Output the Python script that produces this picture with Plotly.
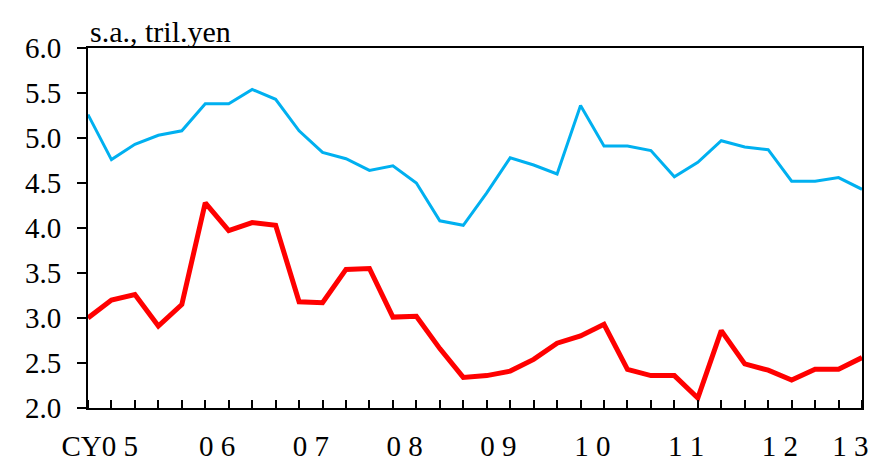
import plotly.graph_objects as go

# Quarterly data, CY2005 Q1 .. CY2013 Q2
years = ["CY0 5", "0 6", "0 7", "0 8", "0 9", "1 0", "1 1", "1 2", "1 3"]
blue_values = [5.26, 4.76, 4.93, 5.03, 5.08, 5.38, 5.38, 5.54, 5.43, 5.08,
               4.84, 4.77, 4.64, 4.69, 4.50, 4.08, 4.03, 4.39, 4.78, 4.70,
               4.60, 5.36, 4.91, 4.91, 4.86, 4.57, 4.73, 4.97, 4.90, 4.87,
               4.52, 4.52, 4.56, 4.43]
red_values = [3.00, 3.20, 3.26, 2.91, 3.15, 4.28, 3.97, 4.06, 4.03, 3.18,
              3.17, 3.54, 3.55, 3.01, 3.02, 2.66, 2.34, 2.36, 2.41, 2.54,
              2.72, 2.80, 2.93, 2.43, 2.36, 2.36, 2.11, 2.86, 2.49, 2.42,
              2.31, 2.43, 2.43, 2.56]
y_ticks = [2.0, 2.5, 3.0, 3.5, 4.0, 4.5, 5.0, 5.5, 6.0]

n = len(blue_values)
x = list(range(n))

# label positions: centre of each year's available quarters
label_pos = []
for k in range(len(years)):
    qs = [q for q in range(4 * k, 4 * k + 4) if q < n]
    label_pos.append(sum(qs) / len(qs))
label_pos[0] -= 1.0  # "CY05" label sits further left

FONT = "Liberation Serif, Times New Roman, serif"

fig = go.Figure()
fig.add_trace(go.Scatter(x=x, y=blue_values, mode="lines",
                         line=dict(color="#00B0F0", width=3), showlegend=False))
fig.add_trace(go.Scatter(x=x, y=red_values, mode="lines",
                         line=dict(color="#FF0000", width=5), showlegend=False))

# page body has an 8px default margin, so the figure is 8px smaller
fig.update_layout(
    width=875, height=458,
    margin=dict(l=80, r=21, t=40, b=58, autoexpand=False),
    paper_bgcolor="white", plot_bgcolor="white",
    font=dict(family=FONT, size=29, color="black"),
    xaxis=dict(
        range=[0, n - 1], showgrid=False, zeroline=False, automargin=False,
        showline=True, linecolor="black", linewidth=2, mirror=True,
        tickvals=label_pos, ticktext=years,
        ticks="outside", ticklen=0, tickcolor="rgba(0,0,0,0)",
        ticklabelstandoff=11,
        minor=dict(tickvals=x, ticks="inside", ticklen=8, tickwidth=2,
                   tickcolor="black", showgrid=False),
        tickfont=dict(family=FONT, size=29),
    ),
    yaxis=dict(
        range=[2, 6], showgrid=False, zeroline=False, automargin=False,
        showline=True, linecolor="black", linewidth=2, mirror=True,
        tickvals=y_ticks, tickformat=".1f",
        ticks="outside", ticklen=9, tickwidth=2, tickcolor="black",
        ticklabelstandoff=10,
        tickfont=dict(family=FONT, size=29),
    ),
    annotations=[dict(text="s.a., tril.yen", xref="paper", yref="paper",
                      x=0, y=1, xanchor="left", yanchor="bottom",
                      showarrow=False, xshift=0, yshift=-2,
                      font=dict(family=FONT, size=30, color="black"))],
)

fig.write_html("out.html")
